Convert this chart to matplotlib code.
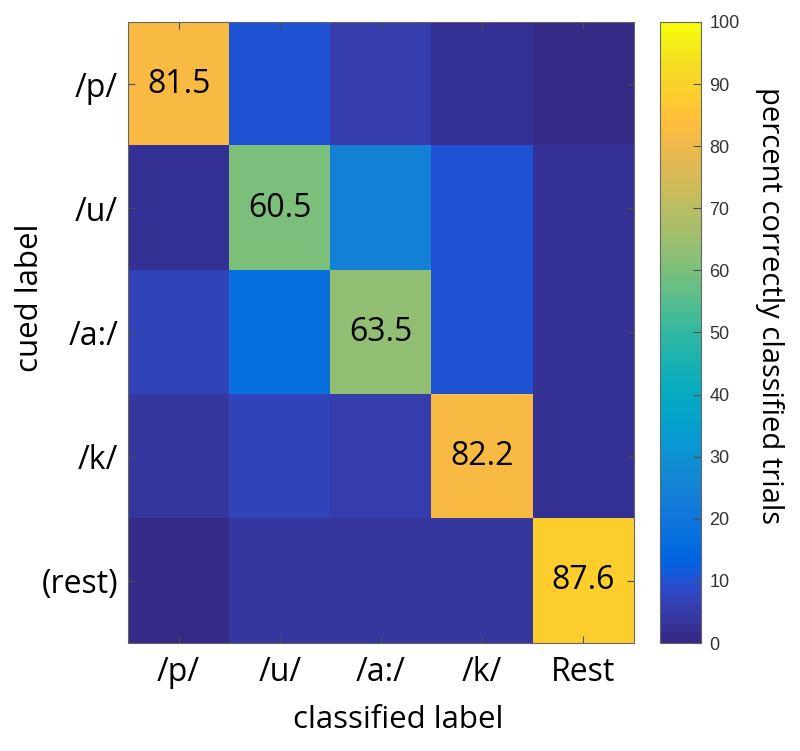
import matplotlib
matplotlib.use("Agg")
import matplotlib.pyplot as plt
import numpy as np
from matplotlib.colors import ListedColormap

# MATLAB parula, 64 entries
parula_data = [
    [0.2081, 0.1663, 0.5292], [0.2116, 0.1898, 0.5777], [0.2123, 0.2138, 0.6270], [0.2081, 0.2386, 0.6771],
    [0.1959, 0.2645, 0.7279], [0.1707, 0.2919, 0.7792], [0.1253, 0.3242, 0.8303], [0.0591, 0.3598, 0.8683],
    [0.0117, 0.3875, 0.8820], [0.0060, 0.4086, 0.8828], [0.0165, 0.4266, 0.8786], [0.0329, 0.4430, 0.8720],
    [0.0498, 0.4586, 0.8641], [0.0629, 0.4737, 0.8554], [0.0723, 0.4887, 0.8467], [0.0779, 0.5040, 0.8384],
    [0.0793, 0.5200, 0.8312], [0.0749, 0.5375, 0.8263], [0.0641, 0.5570, 0.8240], [0.0488, 0.5772, 0.8228],
    [0.0343, 0.5966, 0.8199], [0.0265, 0.6137, 0.8135], [0.0239, 0.6287, 0.8038], [0.0231, 0.6418, 0.7913],
    [0.0228, 0.6535, 0.7768], [0.0267, 0.6642, 0.7607], [0.0384, 0.6743, 0.7436], [0.0590, 0.6838, 0.7254],
    [0.0843, 0.6928, 0.7062], [0.1133, 0.7015, 0.6859], [0.1453, 0.7098, 0.6646], [0.1801, 0.7177, 0.6424],
    [0.2178, 0.7250, 0.6193], [0.2586, 0.7317, 0.5954], [0.3022, 0.7376, 0.5712], [0.3482, 0.7424, 0.5473],
    [0.3953, 0.7459, 0.5244], [0.4420, 0.7481, 0.5033], [0.4871, 0.7491, 0.4840], [0.5300, 0.7491, 0.4661],
    [0.5709, 0.7485, 0.4494], [0.6099, 0.7473, 0.4337], [0.6473, 0.7456, 0.4188], [0.6834, 0.7435, 0.4044],
    [0.7184, 0.7411, 0.3905], [0.7525, 0.7384, 0.3768], [0.7858, 0.7356, 0.3633], [0.8185, 0.7327, 0.3498],
    [0.8507, 0.7299, 0.3360], [0.8824, 0.7274, 0.3217], [0.9139, 0.7258, 0.3063], [0.9450, 0.7261, 0.2886],
    [0.9739, 0.7314, 0.2666], [0.9938, 0.7455, 0.2403], [0.9990, 0.7653, 0.2164], [0.9955, 0.7861, 0.1967],
    [0.9880, 0.8066, 0.1794], [0.9789, 0.8271, 0.1633], [0.9697, 0.8481, 0.1475], [0.9626, 0.8705, 0.1309],
    [0.9589, 0.8949, 0.1132], [0.9598, 0.9218, 0.0948], [0.9661, 0.9514, 0.0755], [0.9763, 0.9831, 0.0538],
]
parula = ListedColormap(parula_data, name="parula")

cued_labels = ["/p/", "/u/", "/a:/", "/k/", "(rest)"]
classified_labels = ["/p/", "/u/", "/a:/", "/k/", "Rest"]

# percent of trials, rows = cued, cols = classified
confusion = np.array([
    [81.5, 10.2, 5.0, 2.3, 1.0],
    [2.5, 60.5, 24.0, 10.0, 3.0],
    [7.0, 17.5, 63.5, 10.0, 2.0],
    [4.0, 6.5, 5.0, 82.2, 2.3],
    [1.5, 3.6, 3.6, 3.7, 87.6],
])

fig = plt.figure(figsize=(8, 7.51), dpi=100)
ax = fig.add_axes([0.16, 0.1438, 0.6325, 0.827])
cax = fig.add_axes([0.825, 0.1438, 0.051, 0.827])

im = ax.imshow(confusion, cmap=parula, vmin=0, vmax=100, aspect="auto")

label_font = "Open Sans"
for i in range(len(cued_labels)):
    ax.text(i, i, f"{confusion[i, i]:.1f}", ha="center", va="center",
            fontsize=23, family=label_font, color="black")

ax.set_xticks(range(len(classified_labels)))
ax.set_xticklabels(classified_labels, fontsize=23, family=label_font)
ax.set_yticks(range(len(cued_labels)))
ax.set_yticklabels(cued_labels, fontsize=23, family=label_font)
ax.tick_params(direction="in", top=True, right=True, length=5, color="0.3")
ax.tick_params(axis="x", pad=9)
ax.tick_params(axis="y", pad=7)
ax.set_xlabel("classified label", fontsize=22.5, family=label_font, va="top")
ax.xaxis.set_label_coords(0.534, -0.1)
ax.set_ylabel("cued label", fontsize=22.5, family=label_font, va="bottom")
ax.yaxis.set_label_coords(-0.165, 0.556)
for s in ax.spines.values():
    s.set_color("0.4")

cb = fig.colorbar(im, cax=cax)
cb.set_ticks(np.arange(0, 101, 10))
cb.ax.tick_params(direction="in", length=6, color="0.3", labelsize=13, labelcolor="0.2", pad=6)
for t in cb.ax.get_yticklabels():
    t.set_family("Liberation Sans")
cb.outline.set_edgecolor("0.4")
cb.set_label("percent correctly classified trials", rotation=-90, fontsize=21,
             family=label_font, va="center", ha="center")
cb.ax.yaxis.set_label_coords(2.68, 0.543)

fig.savefig("out.png", dpi=100)
